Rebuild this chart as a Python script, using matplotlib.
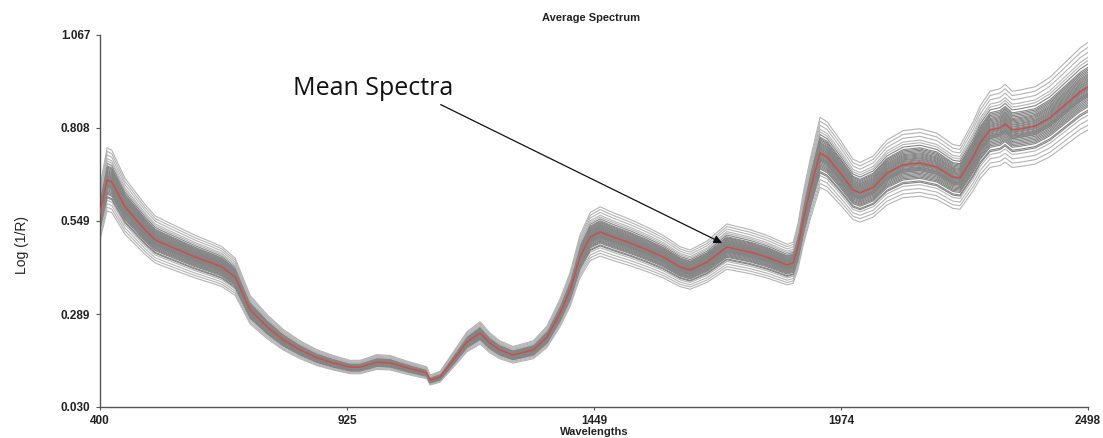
import matplotlib
matplotlib.use("Agg")
import matplotlib.pyplot as plt
import numpy as np
from matplotlib.font_manager import FontProperties

# ---------------------------------------------
# Average NIR spectrum: individual samples (gray) + mean spectrum (red)
# ---------------------------------------------

# mean spectrum (wavelength nm, log(1/R));
# the step near 1100 nm is the detector change
wavelengths = [400, 415, 425, 453, 496, 517, 532, 566, 602, 638, 659, 687, 719,
               755, 789, 825, 861, 895, 931, 952, 988, 1016, 1052, 1094,
               1101, 1122, 1150, 1179, 1207, 1228, 1249, 1277, 1320, 1349, 1377,
               1398, 1419, 1441, 1462, 1489, 1526, 1562, 1596, 1632, 1653, 1689,
               1717, 1731, 1780, 1816, 1859, 1872, 1882, 1893, 1908, 1929, 1944,
               1972, 1999, 2014, 2042, 2071, 2105, 2141, 2177, 2211, 2226, 2254,
               2269, 2290, 2311, 2322, 2337, 2354, 2386, 2417, 2449, 2481, 2498]
mean_spectrum = [0.570, 0.663, 0.657, 0.588, 0.523, 0.496, 0.487, 0.468, 0.448,
                 0.431, 0.420, 0.392, 0.300, 0.253, 0.217, 0.189, 0.167, 0.153,
                 0.141, 0.141, 0.155, 0.153, 0.139, 0.125,
                 0.105, 0.114, 0.161, 0.211, 0.236, 0.208, 0.189, 0.175, 0.189,
                 0.225, 0.292, 0.356, 0.448, 0.504, 0.518, 0.504, 0.487, 0.468,
                 0.448, 0.420, 0.412, 0.434, 0.462, 0.476, 0.462, 0.448, 0.426,
                 0.431, 0.476, 0.551, 0.635, 0.738, 0.727, 0.682, 0.635, 0.627,
                 0.643, 0.682, 0.705, 0.710, 0.699, 0.671, 0.668, 0.727, 0.766,
                 0.802, 0.808, 0.819, 0.802, 0.805, 0.813, 0.836, 0.872, 0.908,
                 0.922]

# relative level of each individual sample against the mean
sample_levels = [0.870, 0.885, 0.900, 0.915, 0.925, 0.930, 0.940, 0.945,
                 0.950, 0.955, 0.960, 0.965, 0.970, 0.972, 0.975, 0.978,
                 0.980, 0.983, 0.986, 0.990, 0.993, 0.996, 1.000, 1.003,
                 1.006, 1.010, 1.013, 1.017, 1.020, 1.024, 1.028, 1.032,
                 1.036, 1.040, 1.045, 1.050, 1.055, 1.060, 1.070, 1.080,
                 1.090, 1.105, 1.120, 1.135]

x_ticks = [400, 925, 1449, 1974, 2498]
y_ticks = [0.030, 0.289, 0.549, 0.808, 1.067]

fig = plt.figure(figsize=(11.03, 4.38), dpi=100)
ax = fig.add_axes([0.0907, 0.0708, 0.8957, 0.8493])

mean_arr = np.array(mean_spectrum)
for lvl in sample_levels:
    col = "#b4b4b4" if abs(lvl - 1) > 0.075 else "#858585"
    ax.plot(wavelengths, mean_arr * lvl, color=col, lw=0.8, zorder=1)

ax.plot(wavelengths, mean_spectrum, color="#c8504a", lw=1.1, zorder=3)

ax.set_xlim(400, 2498)
ax.set_ylim(0.030, 1.067)
ax.set_xticks(x_ticks)
ax.set_yticks(y_ticks)
ax.set_xticklabels([str(t) for t in x_ticks])
ax.set_yticklabels(["%.3f" % t for t in y_ticks])

for s in ["top", "right"]:
    ax.spines[s].set_visible(False)
for s in ["left", "bottom"]:
    ax.spines[s].set_color("#555555")
    ax.spines[s].set_linewidth(1.0)

tick_font = FontProperties(family="Liberation Sans", weight="bold", size=8.5)
for lab in ax.get_xticklabels() + ax.get_yticklabels():
    lab.set_fontproperties(tick_font)
ax.tick_params(axis="y", direction="out", length=3, width=0.8, pad=4,
               colors="#555555", labelcolor="#222222")
ax.tick_params(axis="x", direction="out", length=2, width=0.8, pad=4,
               colors="#555555", labelcolor="#222222")

fig.text(591 / 1103, 1 - 18 / 438, "Average Spectrum", ha="center", va="center",
         family="Liberation Sans", weight="bold", size=8, color="#222222")
fig.text(594 / 1103, 1 - 427 / 438, "Wavelengths", ha="center", va="top",
         family="Liberation Sans", weight="bold", size=8, color="#222222")
fig.text(22 / 1103, 1 - 245 / 438, "Log (1/R)", ha="center", va="center",
         rotation=90, family="Liberation Sans", size=10, color="#222222")

ax.annotate("Mean Spectra", xy=(1721, 0.487), xytext=(810, 0.919),
            ha="left", va="center", family="Open Sans", size=18, color="#111111",
            arrowprops=dict(arrowstyle="-|>", color="#111111", lw=0.9,
                            mutation_scale=12, relpos=(0.87, 0.0),
                            shrinkA=2, shrinkB=0),
            zorder=5)

fig.savefig("out.png", dpi=100, facecolor="white")
